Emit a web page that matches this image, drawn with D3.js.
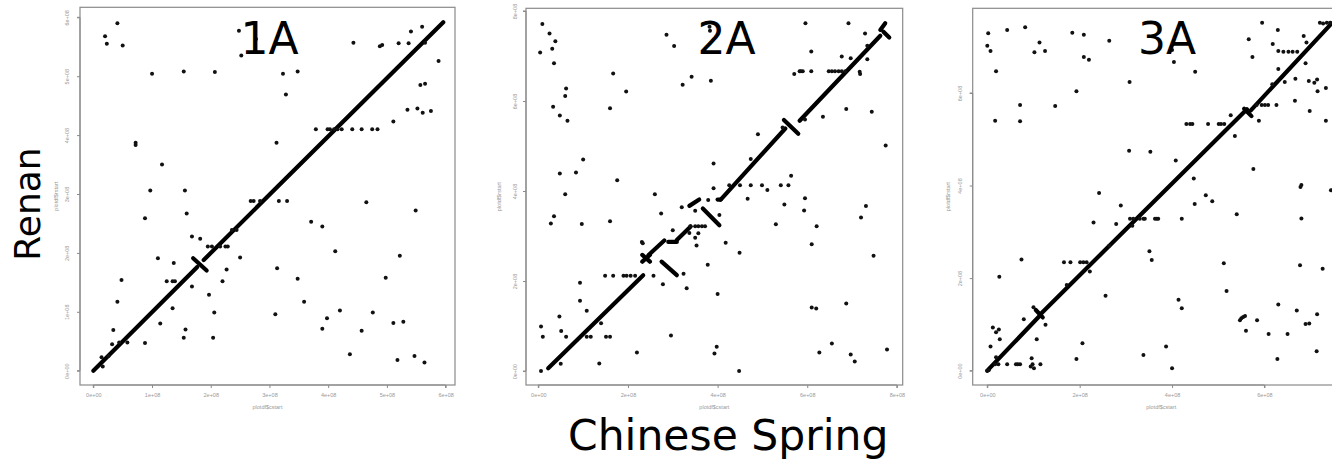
<!DOCTYPE html>
<html><head><meta charset="utf-8">
<script src="https://cdn.jsdelivr.net/npm/d3@7/dist/d3.min.js"></script>
<style>body{margin:0;background:#fff}svg{display:block}</style>
</head><body>
<svg id="c" width="1332" height="460"></svg>
<script>
// ---- Data (positions in units of 1e8 bp) ----
const panelNames = ["1A", "2A", "3A"];
const xTitle = "plotdf$cstart";
const yTitle = "plotdf$rstart";

const ticks1 = [0, 1, 2, 3, 4, 5, 6];
const tickLabels1 = ["0e+00", "1e+08", "2e+08", "3e+08", "4e+08", "5e+08", "6e+08"];
const ticks2 = [0, 2, 4, 6, 8];
const tickLabels2 = ["0e+00", "2e+08", "4e+08", "6e+08", "8e+08"];
const ticks3 = [0, 2, 4, 6];
const tickLabels3 = ["0e+00", "2e+08", "4e+08", "6e+08"];

// syntenic blocks [cstart1, rstart1, cstart2, rstart2]
const blocks1 = [
  [0.00, 0.00, 1.77, 1.76], [1.70, 1.91, 1.93, 1.70], [1.88, 1.88, 5.96, 5.915]
];
const blocks2 = [
  [0.22, 0.06, 2.34, 2.13], [2.32, 2.58, 2.49, 2.43], [2.32, 2.43, 2.49, 2.58],
  [2.46, 2.58, 2.81, 2.90], [2.90, 2.87, 3.09, 2.87], [3.09, 2.91, 3.40, 3.21],
  [3.37, 3.67, 3.59, 3.81], [3.67, 3.61, 4.04, 3.24], [4.00, 3.81, 4.07, 3.81],
  [4.07, 3.81, 5.51, 5.39], [5.48, 5.58, 5.80, 5.27], [5.83, 5.56, 7.63, 7.45],
  [7.63, 7.58, 7.74, 7.73], [7.70, 7.54, 7.83, 7.41], [2.75, 2.43, 3.09, 2.13]
];
const blocks3 = [
  [0.00, 0.00, 1.12, 1.17], [1.05, 1.31, 1.20, 1.15], [1.15, 1.22, 5.62, 5.65],
  [5.56, 5.66, 5.72, 5.50], [5.70, 5.62, 7.45, 7.50]
];

// isolated hits [cstart, rstart]
const points1 = [
  [0.41,5.90],[0.20,5.68],[0.23,5.55],[0.50,5.52],[1.00,5.04],[1.54,5.08],[2.07,5.07],
  [2.48,5.77],[2.52,5.35],[2.77,5.63],[3.23,5.04],[3.48,5.08],[3.28,4.69],[4.43,5.57],
  [4.88,5.51],[4.92,5.53],[5.20,5.56],[5.37,5.56],[5.41,5.76],[5.60,5.84],[5.65,5.57],
  [5.88,5.26],[5.57,4.85],[5.65,4.87],[5.11,4.23],[5.35,4.43],[5.52,4.45],[5.61,4.38],
  [5.75,4.41],[3.79,4.10],[3.99,4.10],[4.03,4.10],[4.10,4.10],[4.16,4.10],[4.23,4.10],
  [4.41,4.10],[4.57,4.10],[4.75,4.10],[4.84,4.10],[0.72,3.83],[0.72,3.87],[3.12,3.87],
  [1.17,3.50],[0.97,3.06],[1.56,3.06],[1.59,2.67],[0.88,2.59],[2.68,2.88],[2.73,2.88],
  [2.84,2.88],[3.16,2.88],[3.30,2.88],[4.65,2.86],[5.49,2.72],[3.71,2.53],[3.90,2.45],
  [1.68,2.28],[1.82,2.24],[2.36,2.39],[2.44,2.39],[1.95,2.11],[2.02,2.11],[2.16,2.11],
  [2.25,2.11],[2.29,2.11],[4.12,2.03],[5.22,1.95],[1.10,1.91],[2.50,1.92],[1.37,1.83],
  [3.13,1.74],[2.27,1.72],[0.48,1.54],[1.25,1.52],[1.35,1.52],[1.39,1.52],[2.20,1.52],
  [3.48,1.56],[4.98,1.58],[1.68,1.43],[1.97,1.29],[0.41,1.17],[3.59,1.17],[1.35,1.06],
  [2.06,0.99],[3.10,0.96],[4.20,1.02],[4.76,0.99],[1.14,0.80],[3.98,0.89],[5.11,0.81],
  [5.28,0.83],[0.34,0.69],[1.57,0.70],[3.90,0.71],[4.57,0.68],[0.32,0.45],[0.44,0.48],
  [0.58,0.48],[0.88,0.47],[1.54,0.56],[2.04,0.56],[4.37,0.28],[5.18,0.18],[5.47,0.25],
  [5.64,0.14],[0.14,0.23],[0.16,0.07],[0.26,0.25]
];
const points2 = [
  [0.09,7.71],[0.04,7.08],[0.25,7.50],[0.31,7.16],[0.38,7.33],[0.35,6.84],[0.62,6.28],
  [0.60,6.11],[0.33,5.87],[0.48,5.68],[0.65,5.56],[1.67,6.61],[1.60,5.84],[1.96,6.21],
  [2.86,7.47],[3.03,7.22],[3.22,6.36],[3.42,6.54],[3.82,7.65],[3.83,7.56],[3.85,6.45],
  [5.96,7.73],[6.09,7.10],[5.71,6.60],[6.92,7.73],[6.97,6.95],[6.77,6.99],[7.29,7.50],
  [7.34,7.23],[7.34,6.93],[7.17,6.65],[7.18,6.60],[5.83,6.66],[5.86,6.66],[5.90,6.66],
  [6.09,6.66],[6.48,6.66],[6.55,6.66],[6.62,6.66],[6.70,6.66],[6.77,6.66],[6.85,6.66],
  [6.35,5.65],[6.87,5.82],[7.44,5.76],[7.75,5.01],[5.95,5.59],[5.45,5.41],[4.90,5.26],
  [4.74,4.71],[3.91,4.61],[3.91,4.06],[1.00,4.70],[0.84,4.41],[0.48,4.39],[0.60,3.93],
  [1.76,4.24],[2.60,3.93],[0.28,3.28],[0.35,3.44],[0.97,3.27],[1.60,3.33],[2.74,3.50],
  [3.00,3.13],[3.20,3.64],[3.50,3.56],[3.37,3.07],[3.50,2.96],[3.53,2.79],[3.57,3.06],
  [3.39,3.22],[3.50,3.22],[3.57,3.22],[3.65,3.22],[3.72,3.22],[3.79,3.80],[4.04,3.47],
  [4.18,2.85],[3.78,2.36],[4.49,2.63],[4.67,3.83],[4.26,4.13],[4.50,4.13],[4.74,4.13],
  [4.99,4.13],[5.41,4.13],[5.58,4.13],[5.11,4.02],[5.64,4.34],[5.49,3.70],[5.95,3.84],
  [5.93,3.57],[6.21,3.22],[5.30,3.26],[6.10,2.82],[7.31,3.67],[7.20,3.41],[7.48,2.56],
  [1.49,2.12],[1.67,2.12],[1.90,2.12],[1.97,2.12],[2.06,2.12],[2.16,2.12],[2.57,2.12],
  [3.24,2.16],[2.78,1.93],[3.31,1.84],[0.93,1.96],[0.93,1.56],[1.08,1.34],[0.47,1.21],
  [0.06,0.99],[0.10,0.76],[0.51,0.89],[0.62,0.76],[1.08,0.76],[1.17,0.76],[1.51,0.76],
  [1.60,0.76],[1.40,1.06],[1.36,0.17],[0.50,0.16],[2.96,0.79],[2.20,0.41],[0.06,0.00],
  [4.00,1.71],[3.98,0.54],[3.93,0.39],[4.48,0.00],[6.10,1.41],[6.20,1.39],[6.87,1.50],
  [6.55,0.61],[6.27,0.41],[6.97,0.37],[7.06,0.21],[7.78,0.48],[2.31,2.87],[2.33,2.84]
];
const points3 = [
  [0.02,7.29],[0.00,7.02],[0.07,6.91],[0.19,6.47],[0.17,5.40],[0.43,7.36],[0.82,7.42],
  [1.02,6.88],[1.13,7.09],[1.25,6.91],[0.71,5.74],[0.71,5.39],[1.47,5.72],[1.84,7.30],
  [2.09,7.26],[2.09,6.78],[2.20,6.72],[1.93,6.04],[2.64,7.13],[3.08,6.24],[4.00,6.93],
  [4.04,6.67],[4.50,6.46],[5.66,7.16],[5.74,6.78],[5.95,7.52],[6.29,7.36],[6.18,7.06],
  [6.30,6.91],[6.41,6.89],[6.52,6.89],[6.61,6.89],[6.71,6.89],[6.30,6.52],[6.44,6.24],
  [6.17,6.19],[6.67,6.31],[6.85,7.23],[6.91,7.09],[6.89,6.64],[6.96,6.26],[7.08,6.22],
  [7.14,6.29],[7.15,6.04],[7.33,6.11],[6.98,5.61],[7.33,5.40],[6.66,5.83],[5.83,5.74],
  [5.94,5.74],[6.01,5.74],[6.08,5.74],[6.26,5.74],[5.88,5.40],[5.27,5.52],[5.36,5.07],
  [4.31,5.33],[4.39,5.33],[4.44,5.33],[4.78,5.33],[5.01,5.33],[5.06,5.33],[5.13,5.33],
  [5.76,4.36],[3.07,4.75],[3.53,4.73],[4.08,4.54],[4.47,4.15],[6.80,4.01],[6.78,3.97],
  [7.44,3.90],[4.73,3.79],[4.87,3.66],[4.49,3.60],[5.40,3.38],[6.80,3.29],[2.42,3.84],
  [2.89,3.57],[2.30,3.20],[2.79,3.17],[3.09,3.28],[3.16,3.28],[3.30,3.28],[3.38,3.28],
  [3.41,3.28],[3.63,3.28],[3.67,3.28],[3.70,3.28],[4.21,3.28],[3.14,3.13],[3.51,2.58],
  [3.56,2.39],[0.74,2.40],[1.66,2.34],[1.80,2.34],[2.01,2.34],[2.08,2.34],[2.15,2.34],
  [2.22,2.14],[2.64,2.70],[1.72,1.85],[0.26,2.03],[2.56,1.62],[5.12,2.32],[5.18,1.72],
  [6.77,2.28],[7.26,2.20],[4.14,1.53],[4.21,1.35],[6.30,1.43],[6.70,1.30],[7.14,1.22],
  [5.47,1.09],[5.50,1.13],[5.54,1.16],[5.58,1.18],[5.60,0.86],[5.84,1.09],[6.09,0.79],
  [6.50,0.79],[6.89,1.01],[6.97,1.02],[7.13,0.42],[6.28,0.25],[3.87,0.52],[3.38,0.34],
  [4.00,0.05],[2.06,0.59],[1.93,0.25],[0.79,1.11],[1.00,1.37],[1.26,0.99],[1.07,0.68],
  [0.12,0.93],[0.19,0.83],[0.25,0.89],[0.27,0.68],[0.07,0.52],[0.19,0.29],[0.17,0.14],
  [0.24,0.14],[0.43,0.14],[0.62,0.14],[0.66,0.14],[0.71,0.14],[0.98,0.14],[1.15,0.14],
  [0.96,0.27],[1.01,0.05],[0.94,0.09],[7.20,7.52],[7.27,7.50],[7.35,7.52],[7.42,7.52],
  [0.00,0.00],[0.03,0.01]
];

// ---- Layout ----
const panels = [
  {name: panelNames[0], blocks: blocks1, points: points1, ticks: ticks1, labels: tickLabels1,
   xd: [-0.227, 6.16], xr: [80, 455], yd: [-0.243, 6.17], yr: [385, 7.3], ytl: 69, yti: 58, lx: 269.5},
  {name: panelNames[1], blocks: blocks2, points: points2, ticks: ticks2, labels: tickLabels2,
   xd: [-0.275, 8.13], xr: [526, 902.7], yd: [-0.31, 8.06], yr: [385, 8.3], ytl: 517, yti: 501, lx: 726.5},
  {name: panelNames[2], blocks: blocks3, points: points3, ticks: ticks3, labels: tickLabels3,
   xd: [-0.316, 7.85], xr: [972.7, 1349.9], yd: [-0.31, 7.83], yr: [385, 8.3], ytl: 962, yti: 950, lx: 1167}
];

const svg = d3.select("#c");
const grey = "#8a8a8a";

panels.forEach((p, i) => {
  const x = d3.scaleLinear().domain(p.xd).range(p.xr);
  const y = d3.scaleLinear().domain(p.yd).range(p.yr);
  const g = svg.append("g");
  const clipId = "clip" + i;
  g.append("clipPath").attr("id", clipId).append("rect")
    .attr("x", p.xr[0]).attr("y", p.yr[1]).attr("width", p.xr[1] - p.xr[0]).attr("height", p.yr[0] - p.yr[1]);

  // x axis
  const xa = d3.axisBottom(x).tickValues(p.ticks).tickFormat((d, k) => p.labels[k]).tickSize(3).tickPadding(5);
  const gx = g.append("g").attr("transform", `translate(0,${p.yr[0]})`).call(xa);
  gx.select(".domain").attr("d", `M${x(p.ticks[0])},3V0H${x(p.ticks[p.ticks.length-1])}V3`).attr("stroke", grey);
  gx.selectAll(".tick line").attr("stroke", grey);
  gx.selectAll(".tick text").attr("fill", "#999").attr("font-size", 5.5).attr("font-family", "Liberation Sans, Arial, sans-serif");

  // y axis
  const ya = d3.axisLeft(y).tickValues(p.ticks).tickFormat((d, k) => p.labels[k]).tickSize(3).tickPadding(4);
  const gy = g.append("g").attr("transform", `translate(${p.xr[0]},0)`).call(ya);
  gy.select(".domain").attr("stroke", grey).attr("d", `M-3,${y(p.ticks[0])}H0V${y(p.ticks[p.ticks.length-1])}H-3`);
  gy.selectAll(".tick line").attr("stroke", grey);
  gy.selectAll(".tick text")
    .attr("fill", "#999").attr("font-size", 5.5).attr("font-family", "Liberation Sans, Arial, sans-serif")
    .attr("text-anchor", "middle").attr("x", null).attr("dy", null)
    .attr("transform", d => `translate(${p.ytl - p.xr[0]},0) rotate(-90)`);

  // box
  g.append("rect").attr("x", p.xr[0]).attr("y", p.yr[1])
    .attr("width", p.xr[1] - p.xr[0]).attr("height", p.yr[0] - p.yr[1])
    .attr("fill", "none").attr("stroke", grey).attr("stroke-width", 1.2);

  // axis titles
  g.append("text").attr("x", (p.xr[0] + p.xr[1]) / 2).attr("y", 409)
    .attr("text-anchor", "middle").attr("fill", "#999").attr("font-size", 5.5)
    .attr("font-family", "Liberation Sans, Arial, sans-serif").text(xTitle);
  g.append("text").attr("transform", `translate(${p.yti},${(p.yr[0] + p.yr[1]) / 2}) rotate(-90)`)
    .attr("text-anchor", "middle").attr("fill", "#999").attr("font-size", 5.5)
    .attr("font-family", "Liberation Sans, Arial, sans-serif").text(yTitle);

  const plot = g.append("g").attr("clip-path", `url(#${clipId})`);
  plot.selectAll("line.blk").data(p.blocks).join("line").attr("class", "blk")
    .attr("x1", d => x(d[0])).attr("y1", d => y(d[1]))
    .attr("x2", d => x(d[2])).attr("y2", d => y(d[3]))
    .attr("stroke", "#000").attr("stroke-width", 4.2).attr("stroke-linecap", "round");
  plot.selectAll("circle").data(p.points).join("circle")
    .attr("cx", d => x(d[0])).attr("cy", d => y(d[1])).attr("r", 2).attr("fill", "#111");

  // panel label
  svg.append("text").attr("x", p.lx).attr("y", 54).attr("text-anchor", "middle")
    .attr("font-family", "DejaVu Sans, Verdana, sans-serif").attr("font-size", 44)
    .attr("fill", "#000").text(p.name);
});

// overall labels
svg.append("text").attr("transform", "translate(40,204) rotate(-90)").attr("text-anchor", "middle")
  .attr("font-family", "DejaVu Sans, Verdana, sans-serif").attr("font-size", 36).attr("fill", "#000").text("Renan");
svg.append("text").attr("x", 568).attr("y", 450).attr("text-anchor", "start")
  .attr("font-family", "DejaVu Sans, Verdana, sans-serif").attr("font-size", 42.5).attr("fill", "#000").text("Chinese Spring");
</script>
</body></html>
